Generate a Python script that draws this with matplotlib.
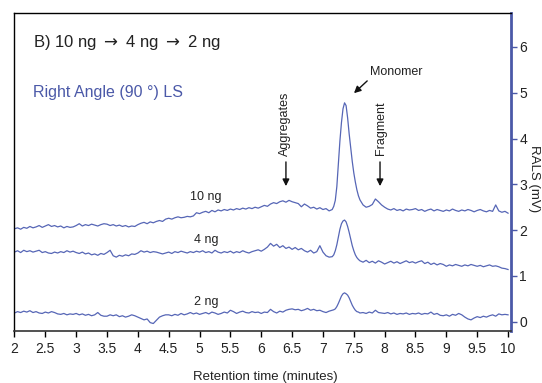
import matplotlib
matplotlib.use("Agg")
from matplotlib import pyplot as plt
from matplotlib import font_manager

# a narrow face is closest to the original; use it when it is installed
installed = set(f.name for f in font_manager.fontManager.ttflist)
if 'Liberation Sans Narrow' in installed:
    plt.rcParams['font.family'] = ['Liberation Sans Narrow', 'DejaVu Sans']
else:
    plt.rcParams['font.family'] = ['Liberation Sans', 'DejaVu Sans']

# retention time (minutes), finer sampling around the monomer peak
times = [
    2.00, 2.05, 2.10, 2.15, 2.20, 2.25, 2.30, 2.35, 2.40, 2.45,
    2.50, 2.55, 2.60, 2.65, 2.70, 2.75, 2.80, 2.85, 2.90, 2.95,
    3.00, 3.05, 3.10, 3.15, 3.20, 3.25, 3.30, 3.35, 3.40, 3.45,
    3.50, 3.55, 3.60, 3.65, 3.70, 3.75, 3.80, 3.85, 3.90, 3.95,
    4.00, 4.05, 4.10, 4.15, 4.20, 4.25, 4.30, 4.35, 4.40, 4.45,
    4.50, 4.55, 4.60, 4.65, 4.70, 4.75, 4.80, 4.85, 4.90, 4.95,
    5.00, 5.05, 5.10, 5.15, 5.20, 5.25, 5.30, 5.35, 5.40, 5.45,
    5.50, 5.55, 5.60, 5.65, 5.70, 5.75, 5.80, 5.85, 5.90, 5.95,
    6.00, 6.05, 6.10, 6.15, 6.20, 6.25, 6.30, 6.35, 6.40, 6.45,
    6.50, 6.55, 6.60, 6.65, 6.70, 6.75, 6.80, 6.85, 6.90, 6.95,
    7.00, 7.05, 7.10, 7.15,
    7.175, 7.20, 7.225, 7.25, 7.275, 7.30, 7.325, 7.35, 7.375, 7.40,
    7.425, 7.45, 7.475, 7.50, 7.525, 7.55, 7.575,
    7.60, 7.65, 7.70, 7.75, 7.80, 7.85, 7.90, 7.95,
    8.00, 8.05, 8.10, 8.15, 8.20, 8.25, 8.30, 8.35, 8.40, 8.45,
    8.50, 8.55, 8.60, 8.65, 8.70, 8.75, 8.80, 8.85, 8.90, 8.95,
    9.00, 9.05, 9.10, 9.15, 9.20, 9.25, 9.30, 9.35, 9.40, 9.45,
    9.50, 9.55, 9.60, 9.65, 9.70, 9.75, 9.80, 9.85, 9.90, 9.95,
    10.00,
]

rals_10ng = [
    2.03, 2.05, 2.02, 2.06, 2.04, 2.08, 2.05, 2.07, 2.10, 2.06,
    2.09, 2.12, 2.08, 2.10, 2.07, 2.09, 2.05, 2.08, 2.06, 2.07,
    2.10, 2.14, 2.09, 2.12, 2.10, 2.13, 2.11, 2.09, 2.12, 2.14,
    2.13, 2.10, 2.12, 2.09, 2.11, 2.08, 2.10, 2.07, 2.09, 2.08,
    2.12, 2.15, 2.17, 2.14, 2.18, 2.16, 2.19, 2.21, 2.19, 2.24,
    2.26, 2.24, 2.27, 2.29, 2.27, 2.28, 2.30, 2.29, 2.31, 2.38,
    2.36, 2.39, 2.41, 2.38, 2.43, 2.40, 2.44, 2.42, 2.45, 2.43,
    2.46, 2.44, 2.47, 2.45, 2.48, 2.46, 2.49, 2.47, 2.50, 2.48,
    2.51, 2.54, 2.52, 2.57, 2.60, 2.58, 2.62, 2.64, 2.61, 2.65,
    2.62, 2.60, 2.58, 2.51, 2.57, 2.53, 2.48, 2.50, 2.46, 2.49,
    2.45, 2.47, 2.42, 2.45,
    2.52, 2.65, 2.95, 3.45, 3.95, 4.35, 4.65, 4.78, 4.72, 4.45,
    4.10, 3.80, 3.50, 3.25, 3.05, 2.88, 2.75,
    2.66, 2.55, 2.50, 2.52, 2.56, 2.68, 2.62, 2.55,
    2.50, 2.46, 2.44, 2.47, 2.43, 2.45, 2.42, 2.46, 2.44, 2.45,
    2.47, 2.43, 2.45, 2.41, 2.44, 2.46, 2.42, 2.45, 2.43, 2.41,
    2.44, 2.42, 2.46, 2.43, 2.41, 2.44, 2.42, 2.45, 2.43, 2.40,
    2.43, 2.45, 2.42, 2.40, 2.43, 2.41, 2.55, 2.42, 2.39, 2.41,
    2.37,
]

rals_4ng = [
    1.52, 1.55, 1.51, 1.56, 1.53, 1.55, 1.52, 1.54, 1.56, 1.51,
    1.53, 1.50, 1.49, 1.52, 1.50, 1.53, 1.51, 1.55, 1.52, 1.54,
    1.51, 1.49, 1.52, 1.48, 1.50, 1.46, 1.48, 1.45, 1.49, 1.47,
    1.51, 1.56, 1.44, 1.41, 1.45, 1.43, 1.46, 1.44, 1.48, 1.47,
    1.50, 1.55, 1.52, 1.54, 1.51, 1.53, 1.52, 1.50, 1.48, 1.50,
    1.52, 1.49, 1.53, 1.51, 1.54, 1.52, 1.50, 1.53, 1.51, 1.54,
    1.52, 1.55, 1.51, 1.53, 1.50, 1.56, 1.52, 1.50, 1.53, 1.51,
    1.54, 1.50, 1.53, 1.51, 1.55, 1.52, 1.50, 1.53, 1.55, 1.57,
    1.54, 1.58, 1.63, 1.71, 1.65, 1.69, 1.62, 1.66, 1.60, 1.63,
    1.58, 1.62, 1.57, 1.60, 1.55, 1.52, 1.56, 1.50, 1.53, 1.66,
    1.52, 1.44, 1.41, 1.42,
    1.46, 1.55, 1.68, 1.85, 2.02, 2.14, 2.20, 2.22, 2.18, 2.08,
    1.95, 1.80, 1.66, 1.55, 1.46, 1.40, 1.36,
    1.33, 1.30, 1.34, 1.29, 1.32, 1.28, 1.33, 1.30,
    1.26, 1.29, 1.32, 1.28, 1.31, 1.27, 1.30, 1.33, 1.29, 1.31,
    1.28, 1.31, 1.33, 1.27, 1.30, 1.25, 1.28, 1.24, 1.27, 1.25,
    1.21, 1.24, 1.22, 1.25, 1.23, 1.21, 1.24, 1.22, 1.25, 1.23,
    1.21, 1.23, 1.20, 1.22, 1.24, 1.21, 1.22, 1.20, 1.17, 1.16,
    1.14,
]

rals_2ng = [
    0.19, 0.22, 0.20, 0.23, 0.21, 0.24, 0.20, 0.22, 0.19, 0.18,
    0.21, 0.19, 0.22, 0.20, 0.17, 0.16, 0.18, 0.15, 0.17, 0.16,
    0.18, 0.15, 0.17, 0.14, 0.16, 0.13, 0.15, 0.20, 0.14, 0.12,
    0.12, 0.15, 0.13, 0.15, 0.11, 0.13, 0.10, 0.12, 0.15, 0.13,
    0.10, 0.07, 0.04, 0.06, -0.02, -0.04, 0.03, 0.10, 0.13, 0.15,
    0.15, 0.13, 0.16, 0.14, 0.18, 0.15, 0.17, 0.20, 0.17, 0.19,
    0.16, 0.18, 0.20, 0.17, 0.21, 0.19, 0.16, 0.18, 0.21, 0.19,
    0.25, 0.22, 0.18, 0.21, 0.23, 0.20, 0.19, 0.22, 0.20, 0.21,
    0.18, 0.21, 0.20, 0.27, 0.22, 0.19, 0.23, 0.21, 0.25, 0.27,
    0.28, 0.26, 0.27, 0.24, 0.26, 0.29, 0.25, 0.27, 0.24, 0.25,
    0.22, 0.20, 0.23, 0.25,
    0.26, 0.28, 0.33, 0.40, 0.48, 0.56, 0.61, 0.63, 0.61, 0.58,
    0.52, 0.44, 0.36, 0.30, 0.25, 0.22, 0.21,
    0.19, 0.20, 0.18, 0.21, 0.19, 0.25, 0.20, 0.19,
    0.18, 0.20, 0.17, 0.19, 0.16, 0.18, 0.17, 0.19, 0.16, 0.18,
    0.17, 0.19, 0.16, 0.18, 0.17, 0.21, 0.16, 0.18, 0.14, 0.13,
    0.15, 0.12, 0.16, 0.14, 0.18, 0.15, 0.10, 0.06, 0.04, 0.08,
    0.11, 0.09, 0.12, 0.10, 0.13, 0.15, 0.12, 0.17, 0.15, 0.16,
    0.15,
]

x_ticks = [2, 2.5, 3, 3.5, 4, 4.5, 5, 5.5, 6, 6.5, 7, 7.5, 8, 8.5, 9, 9.5, 10]
x_tick_labels = ["2", "2.5", "3", "3.5", "4", "4.5", "5", "5.5", "6", "6.5",
                 "7", "7.5", "8", "8.5", "9", "9.5", "10"]
y_ticks = [0, 1, 2, 3, 4, 5, 6]

trace_blue = "#5666b6"
axis_blue = "#4b59a8"
ink = "#222222"

fig = plt.figure(figsize=(5.42, 3.83), dpi=100)
ax = fig.add_axes([0.0258, 0.1358, 0.917, 0.830])

for series in (rals_10ng, rals_4ng, rals_2ng):
    ax.plot(times, series, color=trace_blue, lw=0.9)

ax.set_xlim(1.992, 10.048)
ax.set_ylim(-0.203, 6.74)

ax.set_xticks(x_ticks)
ax.set_xticklabels(x_tick_labels)
ax.yaxis.tick_right()
ax.set_yticks(y_ticks)
ax.tick_params(axis='x', direction='out', length=4, width=1, pad=4,
               labelsize=10, labelcolor=ink)
ax.tick_params(axis='y', direction='out', length=4, width=1, pad=2,
               labelsize=10, labelcolor=ink, color=axis_blue)

ax.spines['left'].set_linewidth(1)
ax.spines['top'].set_linewidth(1)
ax.spines['bottom'].set_linewidth(1.2)
ax.spines['bottom'].set_color('#333333')
ax.spines['right'].set_color(axis_blue)
ax.spines['right'].set_linewidth(2)

# panel texts
ax.text(0.038, 0.906, r"B) 10 ng ${\rightarrow}$ 4 ng ${\rightarrow}$ 2 ng",
        transform=ax.transAxes, fontsize=12, ha='left', va='center', color=ink)
ax.text(0.038, 0.75, "Right Angle (90 \u00b0) LS", transform=ax.transAxes,
        fontsize=11.5, ha='left', va='center', color=axis_blue)

ax.text(0.386, 0.421, "10 ng", transform=ax.transAxes, fontsize=9,
        ha='center', va='center', color=ink)
ax.text(0.386, 0.286, "4 ng", transform=ax.transAxes, fontsize=9,
        ha='center', va='center', color=ink)
ax.text(0.386, 0.092, "2 ng", transform=ax.transAxes, fontsize=9,
        ha='center', va='center', color=ink)

arrow = dict(arrowstyle='-|>', color='#111111', lw=1, mutation_scale=10)
ax.text(7.77, 5.46, "Monomer", fontsize=9, ha='left', va='center', color=ink)
ax.annotate('', xy=(7.47, 4.95), xytext=(7.75, 5.30), arrowprops=arrow)

ax.text(6.385, 4.33, "Aggregates", fontsize=9, rotation=90,
        ha='center', va='center', color=ink)
ax.annotate('', xy=(6.40, 2.90), xytext=(6.40, 3.55), arrowprops=arrow)

ax.text(7.94, 4.23, "Fragment", fontsize=9, rotation=90,
        ha='center', va='center', color=ink)
ax.annotate('', xy=(7.925, 2.90), xytext=(7.925, 3.55), arrowprops=arrow)

fig.text(0.49, 1 - 377 / 383, "Retention time (minutes)", fontsize=9.5,
         ha='center', va='center', color=ink)
fig.text(0.974, 0.535, "RALS (mV)", fontsize=9.5, rotation=270,
         ha='left', va='center', color=ink)

fig.savefig("out.png", dpi=100)
